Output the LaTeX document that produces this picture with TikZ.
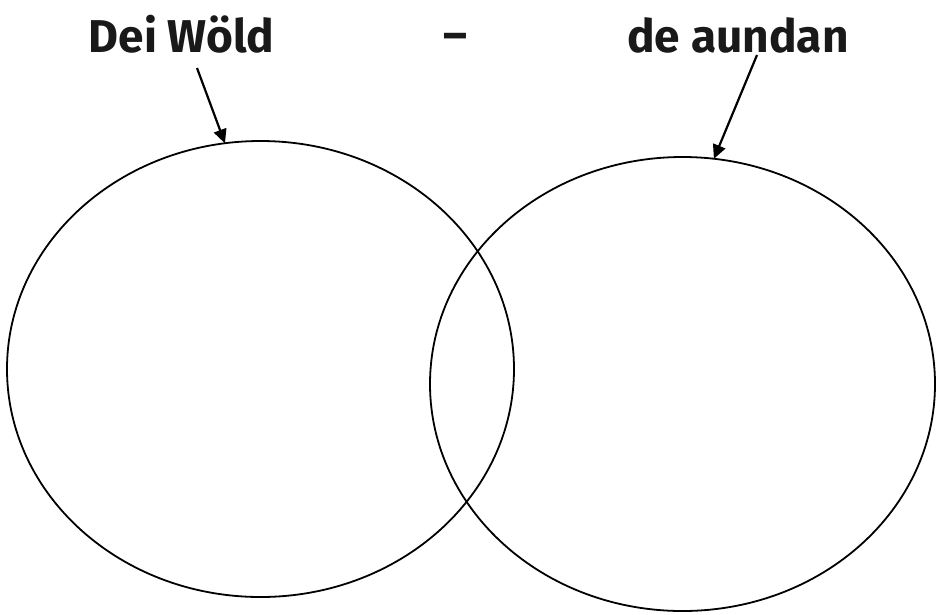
\documentclass[tikz,border=0pt]{standalone}
\usepackage{fontspec}
\setmainfont{Fira Sans}
\usetikzlibrary{shapes.geometric,arrows.meta}
\tikzset{
  set/.style={ellipse, draw=black, line width=1.8pt, inner sep=0pt},
  title/.style={anchor=base, inner sep=0pt, font=\fontsize{46}{50}\selectfont\bfseries, text=black!90},
  pointer/.style={draw=black, line width=2.2pt, -{Triangle[length=14pt,width=13pt]}, shorten >=-1pt}
}
\begin{document}
\begin{tikzpicture}[x=1pt,y=-1pt]
\useasboundingbox (0,0) rectangle (936,614);
\node[set, minimum width=507pt, minimum height=456pt] (L) at (260.5,369) {};
\node[set, minimum width=505pt, minimum height=454pt] (R) at (682.5,384) {};
\node[title] (tl) at (181.5,52) {Dei Wöld};
\node[title] (td) at (455.5,50) {–};
\node[title] (tr) at (738,52) {de aundan};
\coordinate (sl) at (197,68);
\coordinate (sr) at (757,55);
\draw[pointer] (sl) -- (L.99.4);
\draw[pointer] (sr) -- (R.82.4);
\end{tikzpicture}
\end{document}
